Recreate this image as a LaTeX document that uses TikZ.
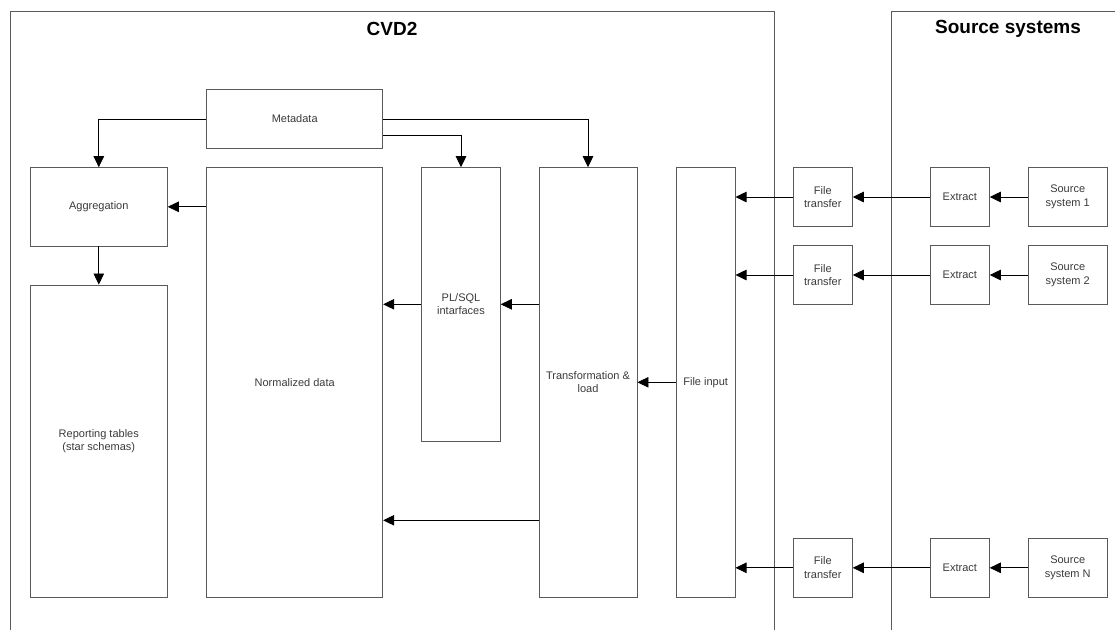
\documentclass[tikz,border=0pt]{standalone}
\usepackage{fontspec}
\setmainfont{Liberation Sans}
\usetikzlibrary{arrows.meta,calc}
\definecolor{boxline}{HTML}{5A5A5A}
\definecolor{txt}{HTML}{3A3A3A}
\begin{document}
\begin{tikzpicture}[x=1pt,y=-1pt,
  box/.style={draw=boxline,line width=0.9pt,inner sep=0pt,align=center,
    font=\fontsize{11}{13.5}\selectfont,text=txt},
  arr/.style={draw=black,line width=0.8pt,-{Triangle[length=11pt,width=10.5pt]}},
  frame/.style={draw=boxline,line width=0.9pt},
  title/.style={font=\fontsize{19}{22}\selectfont\bfseries,text=black}]
\useasboundingbox (0,0) rectangle (1115,630);
% frames
\draw[frame] (10.7,630) -- (10.7,11.7) -- (774.3,11.7) -- (774.3,630);
\draw[frame] (891,630) -- (891,11.7) -- (1115,11.7);
\node[title] (t1) at (392,29) {CVD2};
\node[title] (t2) at (1008,29) {Source systems};
% CVD2 boxes
\node[box,minimum width=176pt,minimum height=58.3pt] (meta) at (294.7,118.9) {Metadata};
\node[box,minimum width=137pt,minimum height=78.3pt] (agg) at (98.8,206.8) {Aggregation};
\node[box,minimum width=137pt,minimum height=312pt] (rep) at (98.8,441) {Reporting tables\\(star schemas)};
\node[box,minimum width=176pt,minimum height=429.3pt] (norm) at (294.7,382.3) {Normalized data};
\node[box,minimum width=78.6pt,minimum height=273.3pt] (plsql) at (461,304.3) {PL/SQL\\intarfaces};
\node[box,minimum width=98pt,minimum height=429.3pt] (trans) at (588,382.3) {Transformation \&\\load};
\node[box,minimum width=58.7pt,minimum height=429.3pt] (fin) at (705.7,382.3) {File input};
% file transfer
\node[box,minimum width=59pt,minimum height=58.6pt] (ft1) at (822.8,197) {File\\transfer};
\node[box,minimum width=59pt,minimum height=58.6pt] (ft2) at (822.8,275) {File\\transfer};
\node[box,minimum width=59pt,minimum height=58.6pt] (ftn) at (822.8,567.8) {File\\transfer};
% extract
\node[box,minimum width=59pt,minimum height=58.6pt] (ex1) at (959.8,197) {Extract};
\node[box,minimum width=59pt,minimum height=58.6pt] (ex2) at (959.8,275) {Extract};
\node[box,minimum width=59pt,minimum height=58.6pt] (exn) at (959.8,567.8) {Extract};
% source systems
\node[box,minimum width=78.7pt,minimum height=58.6pt] (s1) at (1067.7,197) {Source\\system 1};
\node[box,minimum width=78.7pt,minimum height=58.6pt] (s2) at (1067.7,275) {Source\\system 2};
\node[box,minimum width=78.7pt,minimum height=58.6pt] (sn) at (1067.7,567.8) {Source\\system N};
% connectors
\draw[arr] (meta.west) -| (agg.north);
\draw[arr] (meta.east) -| (trans.north);
\draw[arr] ([yshift=-16pt]meta.east) -| (plsql.north);
\draw[arr] (norm.west |- agg.east) -- (agg.east);
\draw[arr] (agg.south) -- (rep.north);
\draw[arr] (trans.west |- plsql.east) -- (plsql.east);
\draw[arr] (plsql.west) -- (norm.east |- plsql.west);
\coordinate (tl) at ([yshift=-138pt]trans.west);
\draw[arr] (tl) -- (norm.east |- tl);
\draw[arr] (fin.west) -- (trans.east |- fin.west);
\draw[arr] (ft1.west) -- (fin.east |- ft1.west);
\draw[arr] (ft2.west) -- (fin.east |- ft2.west);
\draw[arr] (ftn.west) -- (fin.east |- ftn.west);
\draw[arr] (ex1.west) -- (ft1.east);
\draw[arr] (ex2.west) -- (ft2.east);
\draw[arr] (exn.west) -- (ftn.east);
\draw[arr] (s1.west) -- (ex1.east);
\draw[arr] (s2.west) -- (ex2.east);
\draw[arr] (sn.west) -- (exn.east);
\end{tikzpicture}
\end{document}
